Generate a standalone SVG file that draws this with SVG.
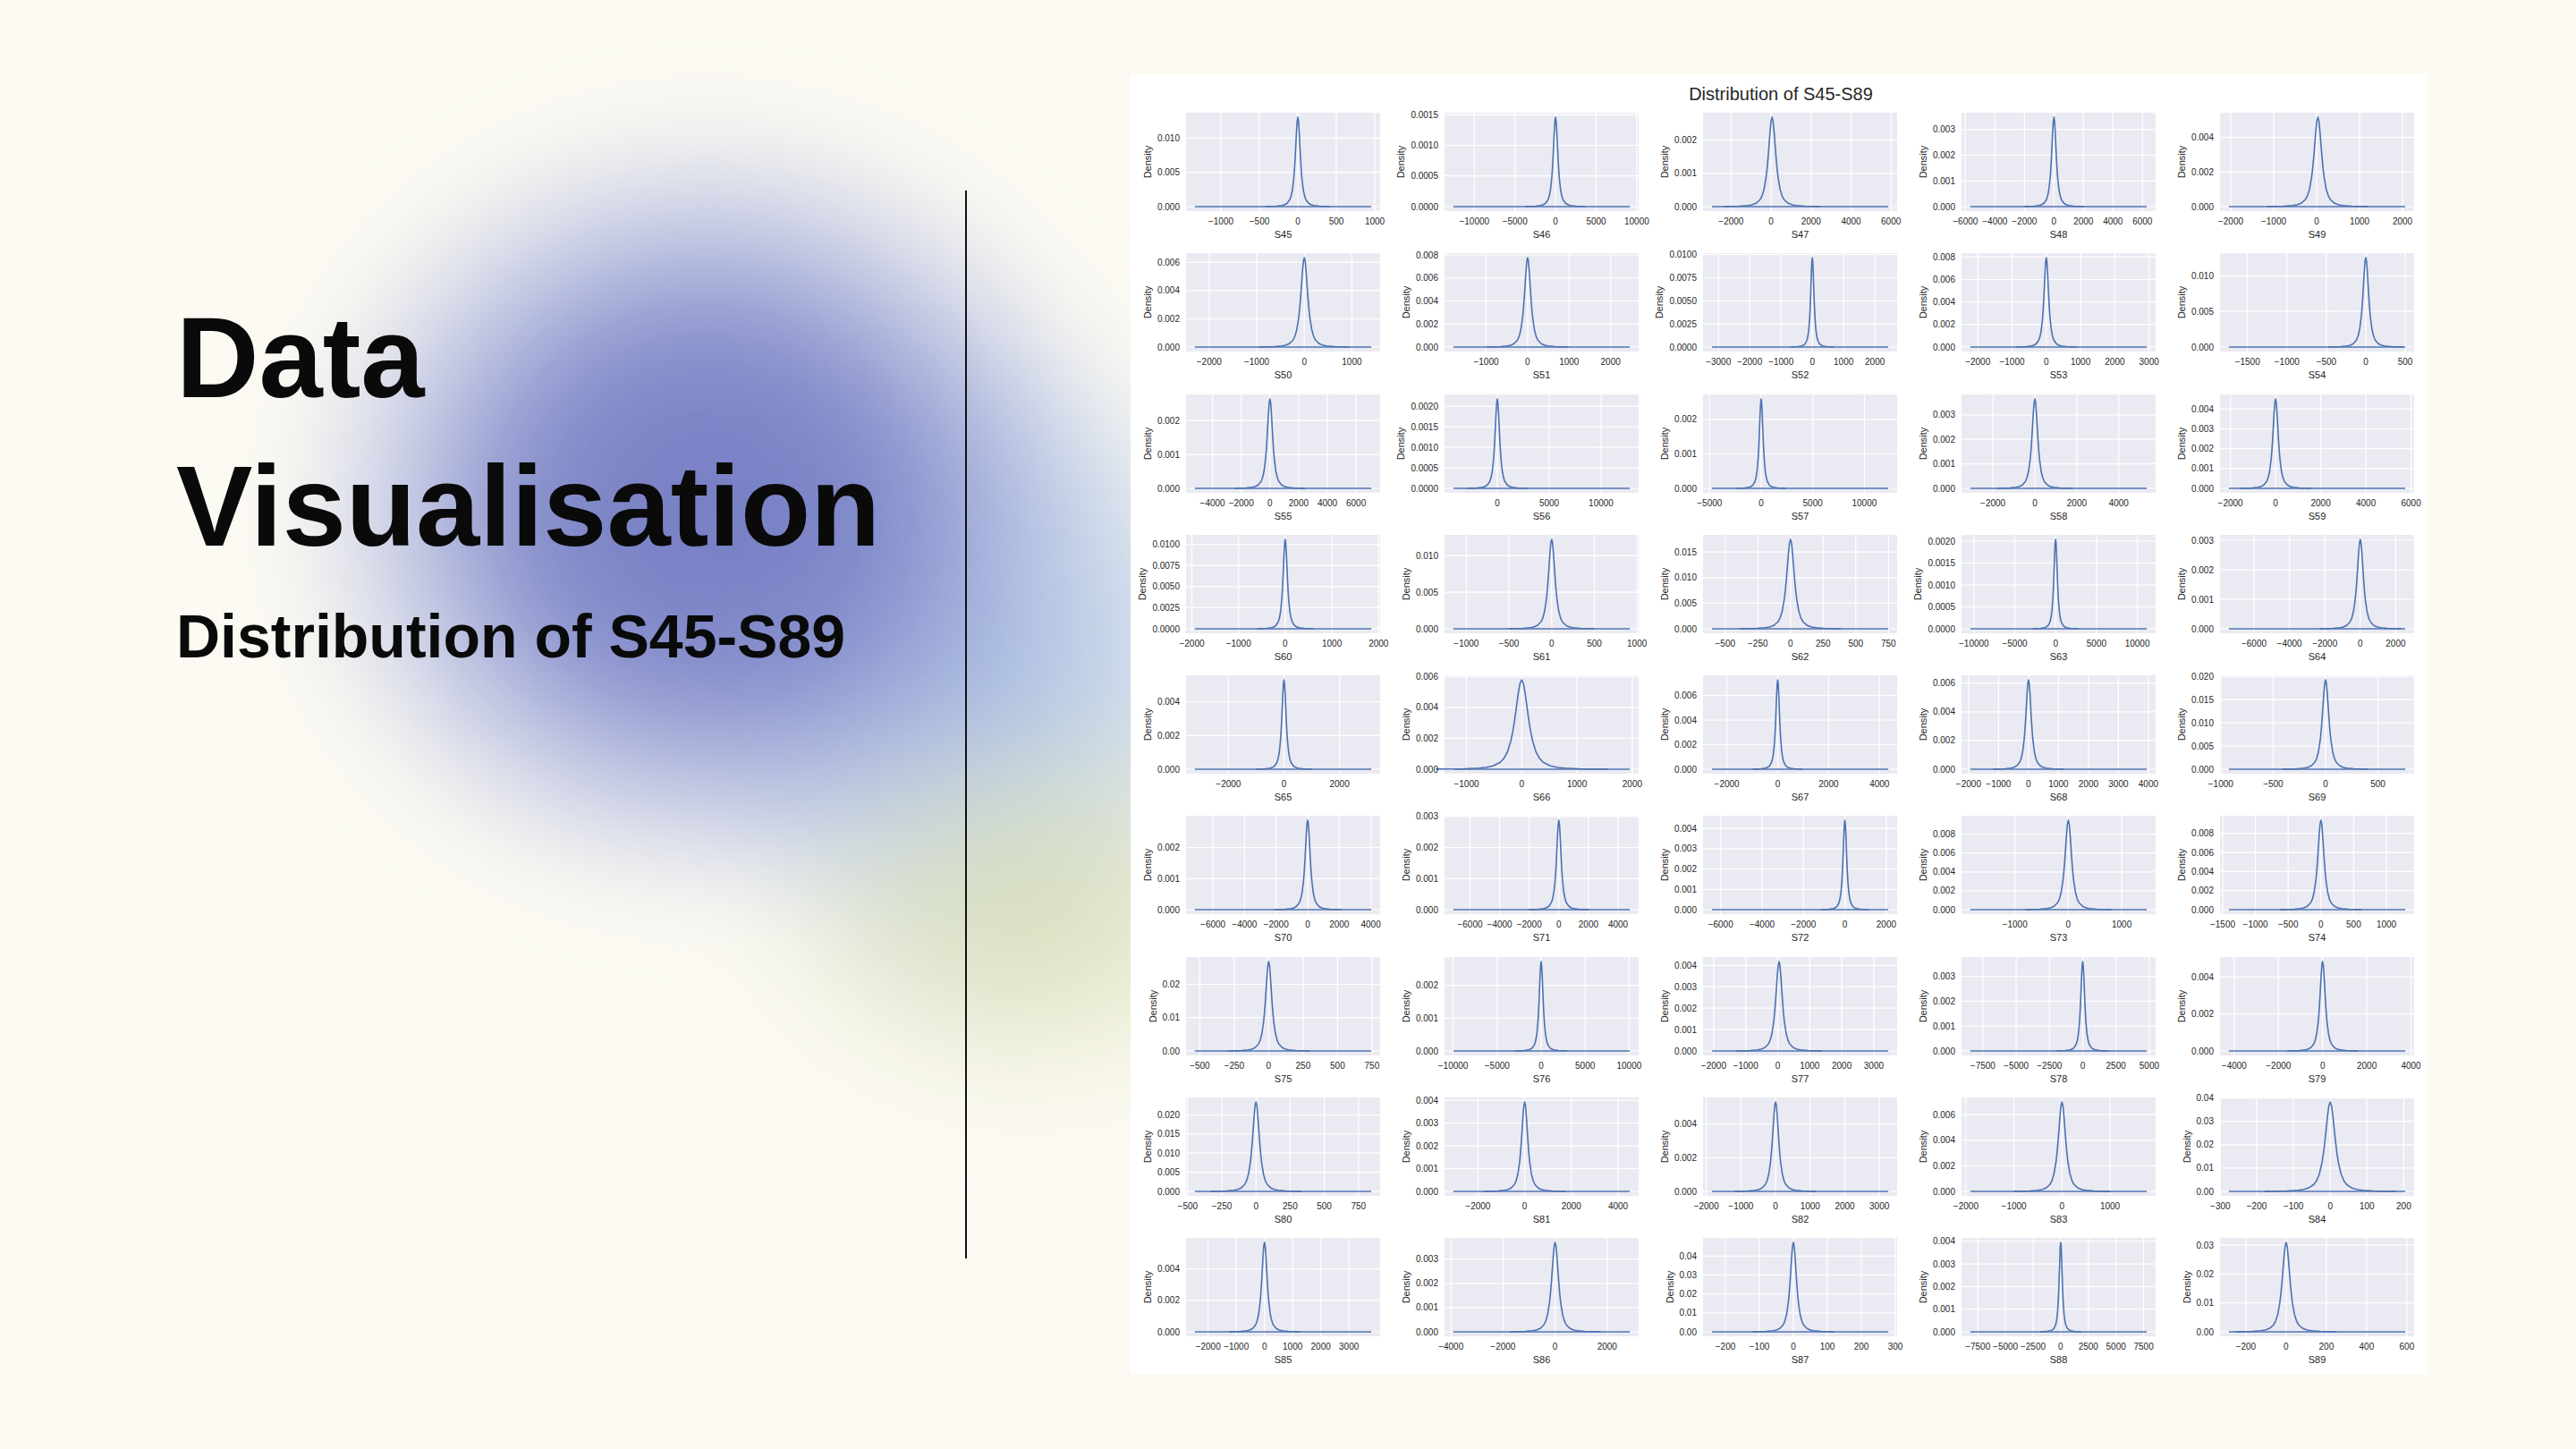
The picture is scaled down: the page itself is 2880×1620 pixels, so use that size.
<svg xmlns="http://www.w3.org/2000/svg" width="2880" height="1620" viewBox="0 0 2880 1620">
<style>
.ax{fill:#EAEAF2}
.gr{stroke:#FFFFFF;stroke-width:1.2;fill:none}
.kd{stroke:#4C72B0;stroke-width:1.6;fill:none;stroke-linejoin:round}
.tk{font-family:'Liberation Sans',Arial,sans-serif;font-size:10px;fill:#262626}
.xt{text-anchor:middle}
.yt{text-anchor:end}
.lb{font-family:'Liberation Sans',Arial,sans-serif;font-size:11px;fill:#262626;text-anchor:middle}
.ttl{font-family:'Liberation Sans',Arial,sans-serif;font-weight:bold;fill:#0A0A0A}
</style>
<defs>
<filter id="blur" x="-60%" y="-60%" width="220%" height="220%"><feGaussianBlur stdDeviation="55"/></filter>
<radialGradient id="g1"><stop offset="0" stop-color="#737AC2"/><stop offset="0.45" stop-color="#7D86C9" stop-opacity="0.92"/><stop offset="0.75" stop-color="#A8B2DE" stop-opacity="0.55"/><stop offset="1" stop-color="#C8CEEA" stop-opacity="0"/></radialGradient>
<radialGradient id="g2"><stop offset="0" stop-color="#9CB8E0" stop-opacity="0.95"/><stop offset="0.6" stop-color="#B0C7E5" stop-opacity="0.6"/><stop offset="1" stop-color="#C9D8EC" stop-opacity="0"/></radialGradient>
<radialGradient id="g3"><stop offset="0" stop-color="#D9DEAE" stop-opacity="0.85"/><stop offset="0.6" stop-color="#E1E4C0" stop-opacity="0.5"/><stop offset="1" stop-color="#EDEDD2" stop-opacity="0"/></radialGradient>
<path id="pk" class="kd" vector-effect="non-scaling-stroke" d="M-12,-0.0016L-10,-0.00275L-8,-0.00527L-6,-0.0121L-5,-0.0202L-4,-0.037L-3,-0.0775L-2.5,-0.1194L-2,-0.1925L-1.5,-0.3228L-1.25,-0.4206L-1,-0.5443L-0.75,-0.6895L-0.5,-0.8381L-0.25,-0.9549L0,-1L0.25,-0.9549L0.5,-0.8381L0.75,-0.6895L1,-0.5443L1.25,-0.4206L1.5,-0.3228L2,-0.1925L2.5,-0.1194L3,-0.0775L4,-0.037L5,-0.0202L6,-0.0121L8,-0.00527L10,-0.00275L12,-0.0016"/>
</defs>
<rect width="2880" height="1620" fill="#FCFAF2"/>
<g id="blob" filter="url(#blur)">
<ellipse cx="1090" cy="760" rx="330" ry="430" fill="url(#g2)"/>
<ellipse cx="1150" cy="1020" rx="320" ry="230" fill="url(#g3)"/>
<ellipse cx="790" cy="570" rx="480" ry="450" fill="url(#g1)"/>
</g>
<g id="title">
<text class="ttl" x="197" y="444" font-size="128">Data</text>
<text class="ttl" x="197" y="610" font-size="128">Visualisation</text>
<text class="ttl" x="197" y="735" font-size="68">Distribution of S45-S89</text>
</g>
<line id="divider" x1="1080" y1="213" x2="1080" y2="1407" stroke="#111111" stroke-width="2"/>
<g id="panel">
<rect x="1264" y="83" width="1450" height="1453" fill="#FFFFFF"/>
<text x="1991" y="112" font-family="'Liberation Sans',Arial,sans-serif" font-size="20" fill="#262626" text-anchor="middle">Distribution of S45-S89</text>
</g>

<g id="S45" transform="translate(1326,126)"><rect class="ax" width="217" height="110"/><path class="gr" d="M39 0V110M82 0V110M125 0V110M168 0V110M211 0V110M0 105H217M0 66.7H217M0 28.4H217"/><path class="kd" d="M9.9 105H207.1"/><use href="#pk" transform="translate(125,105) scale(3,100)"/><text class="tk xt" y="125"><tspan x="39">−1000</tspan><tspan x="82">−500</tspan><tspan x="125">0</tspan><tspan x="168">500</tspan><tspan x="211">1000</tspan></text><g transform="translate(-7,3.6)"><text class="tk yt"><tspan x="0" y="105">0.000</tspan><tspan x="0" y="66.7">0.005</tspan><tspan x="0" y="28.4">0.010</tspan></text></g><text class="lb" x="108.5" y="140">S45</text><text class="lb" transform="translate(-39,55) rotate(-90)">Density</text></g>

<g id="S46" transform="translate(1615,126)"><rect class="ax" width="217" height="110"/><path class="gr" d="M33.3 0V110M78.7 0V110M124.1 0V110M169.5 0V110M214.9 0V110M0 105H217M0 70.7H217M0 36.5H217M0 2.2H217"/><path class="kd" d="M9.9 105H207.1"/><use href="#pk" transform="translate(124.1,105) scale(2.8,100)"/><text class="tk xt" y="125"><tspan x="33.3">−10000</tspan><tspan x="78.7">−5000</tspan><tspan x="124.1">0</tspan><tspan x="169.5">5000</tspan><tspan x="214.9">10000</tspan></text><g transform="translate(-7,3.6)"><text class="tk yt"><tspan x="0" y="105">0.0000</tspan><tspan x="0" y="70.7">0.0005</tspan><tspan x="0" y="36.5">0.0010</tspan><tspan x="0" y="2.2">0.0015</tspan></text></g><text class="lb" x="108.5" y="140">S46</text><text class="lb" transform="translate(-45,55) rotate(-90)">Density</text></g>

<g id="S47" transform="translate(1904,126)"><rect class="ax" width="217" height="110"/><path class="gr" d="M31.4 0V110M76.1 0V110M120.8 0V110M165.5 0V110M210.2 0V110M0 105H217M0 67.8H217M0 30.7H217"/><path class="kd" d="M9.9 105H207.1"/><use href="#pk" transform="translate(77.2,105) scale(4.5,100)"/><text class="tk xt" y="125"><tspan x="31.4">−2000</tspan><tspan x="76.1">0</tspan><tspan x="120.8">2000</tspan><tspan x="165.5">4000</tspan><tspan x="210.2">6000</tspan></text><g transform="translate(-7,3.6)"><text class="tk yt"><tspan x="0" y="105">0.000</tspan><tspan x="0" y="67.8">0.001</tspan><tspan x="0" y="30.7">0.002</tspan></text></g><text class="lb" x="108.5" y="140">S47</text><text class="lb" transform="translate(-39,55) rotate(-90)">Density</text></g>

<g id="S48" transform="translate(2193,126)"><rect class="ax" width="217" height="110"/><path class="gr" d="M4.3 0V110M37.3 0V110M70.3 0V110M103.3 0V110M136.3 0V110M169.3 0V110M202.3 0V110M0 105H217M0 76.3H217M0 47.5H217M0 18.8H217"/><path class="kd" d="M9.9 105H207.1"/><use href="#pk" transform="translate(103.3,105) scale(2.8,100)"/><text class="tk xt" y="125"><tspan x="4.3">−6000</tspan><tspan x="37.3">−4000</tspan><tspan x="70.3">−2000</tspan><tspan x="103.3">0</tspan><tspan x="136.3">2000</tspan><tspan x="169.3">4000</tspan><tspan x="202.3">6000</tspan></text><g transform="translate(-7,3.6)"><text class="tk yt"><tspan x="0" y="105">0.000</tspan><tspan x="0" y="76.3">0.001</tspan><tspan x="0" y="47.5">0.002</tspan><tspan x="0" y="18.8">0.003</tspan></text></g><text class="lb" x="108.5" y="140">S48</text><text class="lb" transform="translate(-39,55) rotate(-90)">Density</text></g>

<g id="S49" transform="translate(2482,126)"><rect class="ax" width="217" height="110"/><path class="gr" d="M12 0V110M60 0V110M108 0V110M156 0V110M204 0V110M0 105H217M0 66.3H217M0 27.6H217"/><path class="kd" d="M9.9 105H207.1"/><use href="#pk" transform="translate(109.4,105) scale(4.7,100)"/><text class="tk xt" y="125"><tspan x="12">−2000</tspan><tspan x="60">−1000</tspan><tspan x="108">0</tspan><tspan x="156">1000</tspan><tspan x="204">2000</tspan></text><g transform="translate(-7,3.6)"><text class="tk yt"><tspan x="0" y="105">0.000</tspan><tspan x="0" y="66.3">0.002</tspan><tspan x="0" y="27.6">0.004</tspan></text></g><text class="lb" x="108.5" y="140">S49</text><text class="lb" transform="translate(-39,55) rotate(-90)">Density</text></g>

<g id="S50" transform="translate(1326,283)"><rect class="ax" width="217" height="110"/><path class="gr" d="M25.8 0V110M79 0V110M132.2 0V110M185.4 0V110M0 105H217M0 73.5H217M0 41.9H217M0 10.4H217"/><path class="kd" d="M9.9 105H207.1"/><use href="#pk" transform="translate(132.2,105) scale(4.2,100)"/><text class="tk xt" y="125"><tspan x="25.8">−2000</tspan><tspan x="79">−1000</tspan><tspan x="132.2">0</tspan><tspan x="185.4">1000</tspan></text><g transform="translate(-7,3.6)"><text class="tk yt"><tspan x="0" y="105">0.000</tspan><tspan x="0" y="73.5">0.002</tspan><tspan x="0" y="41.9">0.004</tspan><tspan x="0" y="10.4">0.006</tspan></text></g><text class="lb" x="108.5" y="140">S50</text><text class="lb" transform="translate(-39,55) rotate(-90)">Density</text></g>

<g id="S51" transform="translate(1615,283)"><rect class="ax" width="217" height="110"/><path class="gr" d="M46.5 0V110M92.9 0V110M139.3 0V110M185.7 0V110M0 105H217M0 79.3H217M0 53.5H217M0 27.8H217M0 2H217"/><path class="kd" d="M9.9 105H207.1"/><use href="#pk" transform="translate(92.9,105) scale(3.8,100)"/><text class="tk xt" y="125"><tspan x="46.5">−1000</tspan><tspan x="92.9">0</tspan><tspan x="139.3">1000</tspan><tspan x="185.7">2000</tspan></text><g transform="translate(-7,3.6)"><text class="tk yt"><tspan x="0" y="105">0.000</tspan><tspan x="0" y="79.3">0.002</tspan><tspan x="0" y="53.5">0.004</tspan><tspan x="0" y="27.8">0.006</tspan><tspan x="0" y="2">0.008</tspan></text></g><text class="lb" x="108.5" y="140">S51</text><text class="lb" transform="translate(-39,55) rotate(-90)">Density</text></g>

<g id="S52" transform="translate(1904,283)"><rect class="ax" width="217" height="110"/><path class="gr" d="M17.2 0V110M52.2 0V110M87.2 0V110M122.2 0V110M157.2 0V110M192.2 0V110M0 105H217M0 79.2H217M0 53.3H217M0 27.5H217M0 1.7H217"/><path class="kd" d="M9.9 105H207.1"/><use href="#pk" transform="translate(122.2,105) scale(2,100)"/><text class="tk xt" y="125"><tspan x="17.2">−3000</tspan><tspan x="52.2">−2000</tspan><tspan x="87.2">−1000</tspan><tspan x="122.2">0</tspan><tspan x="157.2">1000</tspan><tspan x="192.2">2000</tspan></text><g transform="translate(-7,3.6)"><text class="tk yt"><tspan x="0" y="105">0.0000</tspan><tspan x="0" y="79.2">0.0025</tspan><tspan x="0" y="53.3">0.0050</tspan><tspan x="0" y="27.5">0.0075</tspan><tspan x="0" y="1.7">0.0100</tspan></text></g><text class="lb" x="108.5" y="140">S52</text><text class="lb" transform="translate(-45,55) rotate(-90)">Density</text></g>

<g id="S53" transform="translate(2193,283)"><rect class="ax" width="217" height="110"/><path class="gr" d="M18.2 0V110M56.5 0V110M94.8 0V110M133.1 0V110M171.4 0V110M209.7 0V110M0 105H217M0 79.8H217M0 54.7H217M0 29.5H217M0 4.4H217"/><path class="kd" d="M9.9 105H207.1"/><use href="#pk" transform="translate(94.8,105) scale(2.8,100)"/><text class="tk xt" y="125"><tspan x="18.2">−2000</tspan><tspan x="56.5">−1000</tspan><tspan x="94.8">0</tspan><tspan x="133.1">1000</tspan><tspan x="171.4">2000</tspan><tspan x="209.7">3000</tspan></text><g transform="translate(-7,3.6)"><text class="tk yt"><tspan x="0" y="105">0.000</tspan><tspan x="0" y="79.8">0.002</tspan><tspan x="0" y="54.7">0.004</tspan><tspan x="0" y="29.5">0.006</tspan><tspan x="0" y="4.4">0.008</tspan></text></g><text class="lb" x="108.5" y="140">S53</text><text class="lb" transform="translate(-39,55) rotate(-90)">Density</text></g>

<g id="S54" transform="translate(2482,283)"><rect class="ax" width="217" height="110"/><path class="gr" d="M30.7 0V110M74.8 0V110M118.9 0V110M163 0V110M207.1 0V110M0 105H217M0 65.1H217M0 25.3H217"/><path class="kd" d="M9.9 105H207.1"/><use href="#pk" transform="translate(163,105) scale(3.5,100)"/><text class="tk xt" y="125"><tspan x="30.7">−1500</tspan><tspan x="74.8">−1000</tspan><tspan x="118.9">−500</tspan><tspan x="163">0</tspan><tspan x="207.1">500</tspan></text><g transform="translate(-7,3.6)"><text class="tk yt"><tspan x="0" y="105">0.000</tspan><tspan x="0" y="65.1">0.005</tspan><tspan x="0" y="25.3">0.010</tspan></text></g><text class="lb" x="108.5" y="140">S54</text><text class="lb" transform="translate(-39,55) rotate(-90)">Density</text></g>

<g id="S55" transform="translate(1326,441)"><rect class="ax" width="217" height="110"/><path class="gr" d="M29.6 0V110M61.7 0V110M93.8 0V110M125.9 0V110M158 0V110M190.1 0V110M0 105H217M0 67.1H217M0 29.2H217"/><path class="kd" d="M9.9 105H207.1"/><use href="#pk" transform="translate(93.8,105) scale(3.3,100)"/><text class="tk xt" y="125"><tspan x="29.6">−4000</tspan><tspan x="61.7">−2000</tspan><tspan x="93.8">0</tspan><tspan x="125.9">2000</tspan><tspan x="158">4000</tspan><tspan x="190.1">6000</tspan></text><g transform="translate(-7,3.6)"><text class="tk yt"><tspan x="0" y="105">0.000</tspan><tspan x="0" y="67.1">0.001</tspan><tspan x="0" y="29.2">0.002</tspan></text></g><text class="lb" x="108.5" y="140">S55</text><text class="lb" transform="translate(-39,55) rotate(-90)">Density</text></g>

<g id="S56" transform="translate(1615,441)"><rect class="ax" width="217" height="110"/><path class="gr" d="M59 0V110M117 0V110M175 0V110M0 105H217M0 82.1H217M0 59.1H217M0 36.2H217M0 13.3H217"/><path class="kd" d="M9.9 105H207.1"/><use href="#pk" transform="translate(59,105) scale(2.8,100)"/><text class="tk xt" y="125"><tspan x="59">0</tspan><tspan x="117">5000</tspan><tspan x="175">10000</tspan></text><g transform="translate(-7,3.6)"><text class="tk yt"><tspan x="0" y="105">0.0000</tspan><tspan x="0" y="82.1">0.0005</tspan><tspan x="0" y="59.1">0.0010</tspan><tspan x="0" y="36.2">0.0015</tspan><tspan x="0" y="13.3">0.0020</tspan></text></g><text class="lb" x="108.5" y="140">S56</text><text class="lb" transform="translate(-45,55) rotate(-90)">Density</text></g>

<g id="S57" transform="translate(1904,441)"><rect class="ax" width="217" height="110"/><path class="gr" d="M7.3 0V110M65 0V110M122.7 0V110M180.4 0V110M0 105H217M0 66.4H217M0 27.8H217"/><path class="kd" d="M9.9 105H207.1"/><use href="#pk" transform="translate(65,105) scale(2.3,100)"/><text class="tk xt" y="125"><tspan x="7.3">−5000</tspan><tspan x="65">0</tspan><tspan x="122.7">5000</tspan><tspan x="180.4">10000</tspan></text><g transform="translate(-7,3.6)"><text class="tk yt"><tspan x="0" y="105">0.000</tspan><tspan x="0" y="66.4">0.001</tspan><tspan x="0" y="27.8">0.002</tspan></text></g><text class="lb" x="108.5" y="140">S57</text><text class="lb" transform="translate(-39,55) rotate(-90)">Density</text></g>

<g id="S58" transform="translate(2193,441)"><rect class="ax" width="217" height="110"/><path class="gr" d="M35.1 0V110M82 0V110M128.9 0V110M175.8 0V110M0 105H217M0 77.6H217M0 50.2H217M0 22.8H217"/><path class="kd" d="M9.9 105H207.1"/><use href="#pk" transform="translate(82,105) scale(3.5,100)"/><text class="tk xt" y="125"><tspan x="35.1">−2000</tspan><tspan x="82">0</tspan><tspan x="128.9">2000</tspan><tspan x="175.8">4000</tspan></text><g transform="translate(-7,3.6)"><text class="tk yt"><tspan x="0" y="105">0.000</tspan><tspan x="0" y="77.6">0.001</tspan><tspan x="0" y="50.2">0.002</tspan><tspan x="0" y="22.8">0.003</tspan></text></g><text class="lb" x="108.5" y="140">S58</text><text class="lb" transform="translate(-39,55) rotate(-90)">Density</text></g>

<g id="S59" transform="translate(2482,441)"><rect class="ax" width="217" height="110"/><path class="gr" d="M11.6 0V110M62.1 0V110M112.6 0V110M163.1 0V110M213.6 0V110M0 105H217M0 82.8H217M0 60.7H217M0 38.5H217M0 16.3H217"/><path class="kd" d="M9.9 105H207.1"/><use href="#pk" transform="translate(62.1,105) scale(3.3,100)"/><text class="tk xt" y="125"><tspan x="11.6">−2000</tspan><tspan x="62.1">0</tspan><tspan x="112.6">2000</tspan><tspan x="163.1">4000</tspan><tspan x="213.6">6000</tspan></text><g transform="translate(-7,3.6)"><text class="tk yt"><tspan x="0" y="105">0.000</tspan><tspan x="0" y="82.8">0.001</tspan><tspan x="0" y="60.7">0.002</tspan><tspan x="0" y="38.5">0.003</tspan><tspan x="0" y="16.3">0.004</tspan></text></g><text class="lb" x="108.5" y="140">S59</text><text class="lb" transform="translate(-39,55) rotate(-90)">Density</text></g>

<g id="S60" transform="translate(1326,598)"><rect class="ax" width="217" height="110"/><path class="gr" d="M6.5 0V110M58.7 0V110M110.9 0V110M163.1 0V110M215.3 0V110M0 105H217M0 81.4H217M0 57.8H217M0 34.2H217M0 10.7H217"/><path class="kd" d="M9.9 105H207.1"/><use href="#pk" transform="translate(110.9,105) scale(2.6,100)"/><text class="tk xt" y="125"><tspan x="6.5">−2000</tspan><tspan x="58.7">−1000</tspan><tspan x="110.9">0</tspan><tspan x="163.1">1000</tspan><tspan x="215.3">2000</tspan></text><g transform="translate(-7,3.6)"><text class="tk yt"><tspan x="0" y="105">0.0000</tspan><tspan x="0" y="81.4">0.0025</tspan><tspan x="0" y="57.8">0.0050</tspan><tspan x="0" y="34.2">0.0075</tspan><tspan x="0" y="10.7">0.0100</tspan></text></g><text class="lb" x="108.5" y="140">S60</text><text class="lb" transform="translate(-45,55) rotate(-90)">Density</text></g>

<g id="S61" transform="translate(1615,598)"><rect class="ax" width="217" height="110"/><path class="gr" d="M24.4 0V110M72.1 0V110M119.8 0V110M167.5 0V110M215.2 0V110M0 105H217M0 64.1H217M0 23.2H217"/><path class="kd" d="M9.9 105H207.1"/><use href="#pk" transform="translate(119.8,105) scale(4,100)"/><text class="tk xt" y="125"><tspan x="24.4">−1000</tspan><tspan x="72.1">−500</tspan><tspan x="119.8">0</tspan><tspan x="167.5">500</tspan><tspan x="215.2">1000</tspan></text><g transform="translate(-7,3.6)"><text class="tk yt"><tspan x="0" y="105">0.000</tspan><tspan x="0" y="64.1">0.005</tspan><tspan x="0" y="23.2">0.010</tspan></text></g><text class="lb" x="108.5" y="140">S61</text><text class="lb" transform="translate(-39,55) rotate(-90)">Density</text></g>

<g id="S62" transform="translate(1904,598)"><rect class="ax" width="217" height="110"/><path class="gr" d="M24.8 0V110M61.3 0V110M97.8 0V110M134.3 0V110M170.8 0V110M207.3 0V110M0 105H217M0 76.4H217M0 47.8H217M0 19.2H217"/><path class="kd" d="M9.9 105H207.1"/><use href="#pk" transform="translate(97.8,105) scale(4.7,100)"/><text class="tk xt" y="125"><tspan x="24.8">−500</tspan><tspan x="61.3">−250</tspan><tspan x="97.8">0</tspan><tspan x="134.3">250</tspan><tspan x="170.8">500</tspan><tspan x="207.3">750</tspan></text><g transform="translate(-7,3.6)"><text class="tk yt"><tspan x="0" y="105">0.000</tspan><tspan x="0" y="76.4">0.005</tspan><tspan x="0" y="47.8">0.010</tspan><tspan x="0" y="19.2">0.015</tspan></text></g><text class="lb" x="108.5" y="140">S62</text><text class="lb" transform="translate(-39,55) rotate(-90)">Density</text></g>

<g id="S63" transform="translate(2193,598)"><rect class="ax" width="217" height="110"/><path class="gr" d="M13.8 0V110M59.5 0V110M105.2 0V110M150.9 0V110M196.6 0V110M0 105H217M0 80.5H217M0 56H217M0 31.5H217M0 7H217"/><path class="kd" d="M9.9 105H207.1"/><use href="#pk" transform="translate(105.2,105) scale(2.1,100)"/><text class="tk xt" y="125"><tspan x="13.8">−10000</tspan><tspan x="59.5">−5000</tspan><tspan x="105.2">0</tspan><tspan x="150.9">5000</tspan><tspan x="196.6">10000</tspan></text><g transform="translate(-7,3.6)"><text class="tk yt"><tspan x="0" y="105">0.0000</tspan><tspan x="0" y="80.5">0.0005</tspan><tspan x="0" y="56">0.0010</tspan><tspan x="0" y="31.5">0.0015</tspan><tspan x="0" y="7">0.0020</tspan></text></g><text class="lb" x="108.5" y="140">S63</text><text class="lb" transform="translate(-45,55) rotate(-90)">Density</text></g>

<g id="S64" transform="translate(2482,598)"><rect class="ax" width="217" height="110"/><path class="gr" d="M38 0V110M77.6 0V110M117.2 0V110M156.8 0V110M196.4 0V110M0 105H217M0 72H217M0 39H217M0 6H217"/><path class="kd" d="M9.9 105H207.1"/><use href="#pk" transform="translate(156.8,105) scale(3.8,100)"/><text class="tk xt" y="125"><tspan x="38">−6000</tspan><tspan x="77.6">−4000</tspan><tspan x="117.2">−2000</tspan><tspan x="156.8">0</tspan><tspan x="196.4">2000</tspan></text><g transform="translate(-7,3.6)"><text class="tk yt"><tspan x="0" y="105">0.000</tspan><tspan x="0" y="72">0.001</tspan><tspan x="0" y="39">0.002</tspan><tspan x="0" y="6">0.003</tspan></text></g><text class="lb" x="108.5" y="140">S64</text><text class="lb" transform="translate(-39,55) rotate(-90)">Density</text></g>

<g id="S65" transform="translate(1326,755)"><rect class="ax" width="217" height="110"/><path class="gr" d="M47.4 0V110M109.5 0V110M171.6 0V110M0 105H217M0 67.3H217M0 29.5H217"/><path class="kd" d="M9.9 105H207.1"/><use href="#pk" transform="translate(109.5,105) scale(2.6,100)"/><text class="tk xt" y="125"><tspan x="47.4">−2000</tspan><tspan x="109.5">0</tspan><tspan x="171.6">2000</tspan></text><g transform="translate(-7,3.6)"><text class="tk yt"><tspan x="0" y="105">0.000</tspan><tspan x="0" y="67.3">0.002</tspan><tspan x="0" y="29.5">0.004</tspan></text></g><text class="lb" x="108.5" y="140">S65</text><text class="lb" transform="translate(-39,55) rotate(-90)">Density</text></g>

<g id="S66" transform="translate(1615,755)"><rect class="ax" width="217" height="110"/><path class="gr" d="M24.5 0V110M86.3 0V110M148.1 0V110M209.9 0V110M0 105H217M0 70.4H217M0 35.8H217M0 1.2H217"/><path class="kd" d="M9.9 105H207.1"/><use href="#pk" transform="translate(86.3,105) scale(8,100)"/><text class="tk xt" y="125"><tspan x="24.5">−1000</tspan><tspan x="86.3">0</tspan><tspan x="148.1">1000</tspan><tspan x="209.9">2000</tspan></text><g transform="translate(-7,3.6)"><text class="tk yt"><tspan x="0" y="105">0.000</tspan><tspan x="0" y="70.4">0.002</tspan><tspan x="0" y="35.8">0.004</tspan><tspan x="0" y="1.2">0.006</tspan></text></g><text class="lb" x="108.5" y="140">S66</text><text class="lb" transform="translate(-39,55) rotate(-90)">Density</text></g>

<g id="S67" transform="translate(1904,755)"><rect class="ax" width="217" height="110"/><path class="gr" d="M26.6 0V110M83.5 0V110M140.4 0V110M197.3 0V110M0 105H217M0 77.5H217M0 50H217M0 22.5H217"/><path class="kd" d="M9.9 105H207.1"/><use href="#pk" transform="translate(83.5,105) scale(2.3,100)"/><text class="tk xt" y="125"><tspan x="26.6">−2000</tspan><tspan x="83.5">0</tspan><tspan x="140.4">2000</tspan><tspan x="197.3">4000</tspan></text><g transform="translate(-7,3.6)"><text class="tk yt"><tspan x="0" y="105">0.000</tspan><tspan x="0" y="77.5">0.002</tspan><tspan x="0" y="50">0.004</tspan><tspan x="0" y="22.5">0.006</tspan></text></g><text class="lb" x="108.5" y="140">S67</text><text class="lb" transform="translate(-39,55) rotate(-90)">Density</text></g>

<g id="S68" transform="translate(2193,755)"><rect class="ax" width="217" height="110"/><path class="gr" d="M7.9 0V110M41.4 0V110M74.9 0V110M108.4 0V110M141.9 0V110M175.4 0V110M208.9 0V110M0 105H217M0 72.9H217M0 40.9H217M0 8.8H217"/><path class="kd" d="M9.9 105H207.1"/><use href="#pk" transform="translate(74.9,105) scale(3.3,100)"/><text class="tk xt" y="125"><tspan x="7.9">−2000</tspan><tspan x="41.4">−1000</tspan><tspan x="74.9">0</tspan><tspan x="108.4">1000</tspan><tspan x="141.9">2000</tspan><tspan x="175.4">3000</tspan><tspan x="208.9">4000</tspan></text><g transform="translate(-7,3.6)"><text class="tk yt"><tspan x="0" y="105">0.000</tspan><tspan x="0" y="72.9">0.002</tspan><tspan x="0" y="40.9">0.004</tspan><tspan x="0" y="8.8">0.006</tspan></text></g><text class="lb" x="108.5" y="140">S68</text><text class="lb" transform="translate(-39,55) rotate(-90)">Density</text></g>

<g id="S69" transform="translate(2482,755)"><rect class="ax" width="217" height="110"/><path class="gr" d="M0.8 0V110M59.4 0V110M118 0V110M176.6 0V110M0 105H217M0 79.1H217M0 53.1H217M0 27.2H217M0 1.2H217"/><path class="kd" d="M9.9 105H207.1"/><use href="#pk" transform="translate(118,105) scale(4,100)"/><text class="tk xt" y="125"><tspan x="0.8">−1000</tspan><tspan x="59.4">−500</tspan><tspan x="118">0</tspan><tspan x="176.6">500</tspan></text><g transform="translate(-7,3.6)"><text class="tk yt"><tspan x="0" y="105">0.000</tspan><tspan x="0" y="79.1">0.005</tspan><tspan x="0" y="53.1">0.010</tspan><tspan x="0" y="27.2">0.015</tspan><tspan x="0" y="1.2">0.020</tspan></text></g><text class="lb" x="108.5" y="140">S69</text><text class="lb" transform="translate(-39,55) rotate(-90)">Density</text></g>

<g id="S70" transform="translate(1326,912)"><rect class="ax" width="217" height="110"/><path class="gr" d="M30.1 0V110M65.4 0V110M100.7 0V110M136 0V110M171.3 0V110M206.6 0V110M0 105H217M0 70.3H217M0 35.6H217"/><path class="kd" d="M9.9 105H207.1"/><use href="#pk" transform="translate(136,105) scale(3.1,100)"/><text class="tk xt" y="125"><tspan x="30.1">−6000</tspan><tspan x="65.4">−4000</tspan><tspan x="100.7">−2000</tspan><tspan x="136">0</tspan><tspan x="171.3">2000</tspan><tspan x="206.6">4000</tspan></text><g transform="translate(-7,3.6)"><text class="tk yt"><tspan x="0" y="105">0.000</tspan><tspan x="0" y="70.3">0.001</tspan><tspan x="0" y="35.6">0.002</tspan></text></g><text class="lb" x="108.5" y="140">S70</text><text class="lb" transform="translate(-39,55) rotate(-90)">Density</text></g>

<g id="S71" transform="translate(1615,912)"><rect class="ax" width="217" height="110"/><path class="gr" d="M28.5 0V110M61.6 0V110M94.7 0V110M127.8 0V110M160.9 0V110M194 0V110M0 105H217M0 70.3H217M0 35.6H217M0 0.8H217"/><path class="kd" d="M9.9 105H207.1"/><use href="#pk" transform="translate(127.8,105) scale(2.8,100)"/><text class="tk xt" y="125"><tspan x="28.5">−6000</tspan><tspan x="61.6">−4000</tspan><tspan x="94.7">−2000</tspan><tspan x="127.8">0</tspan><tspan x="160.9">2000</tspan><tspan x="194">4000</tspan></text><g transform="translate(-7,3.6)"><text class="tk yt"><tspan x="0" y="105">0.000</tspan><tspan x="0" y="70.3">0.001</tspan><tspan x="0" y="35.6">0.002</tspan><tspan x="0" y="0.8">0.003</tspan></text></g><text class="lb" x="108.5" y="140">S71</text><text class="lb" transform="translate(-39,55) rotate(-90)">Density</text></g>

<g id="S72" transform="translate(1904,912)"><rect class="ax" width="217" height="110"/><path class="gr" d="M19.7 0V110M66 0V110M112.3 0V110M158.6 0V110M204.9 0V110M0 105H217M0 82.3H217M0 59.5H217M0 36.8H217M0 14.1H217"/><path class="kd" d="M9.9 105H207.1"/><use href="#pk" transform="translate(158.6,105) scale(2.2,100)"/><text class="tk xt" y="125"><tspan x="19.7">−6000</tspan><tspan x="66">−4000</tspan><tspan x="112.3">−2000</tspan><tspan x="158.6">0</tspan><tspan x="204.9">2000</tspan></text><g transform="translate(-7,3.6)"><text class="tk yt"><tspan x="0" y="105">0.000</tspan><tspan x="0" y="82.3">0.001</tspan><tspan x="0" y="59.5">0.002</tspan><tspan x="0" y="36.8">0.003</tspan><tspan x="0" y="14.1">0.004</tspan></text></g><text class="lb" x="108.5" y="140">S72</text><text class="lb" transform="translate(-39,55) rotate(-90)">Density</text></g>

<g id="S73" transform="translate(2193,912)"><rect class="ax" width="217" height="110"/><path class="gr" d="M59.7 0V110M119.4 0V110M179.1 0V110M0 105H217M0 83.9H217M0 62.8H217M0 41.7H217M0 20.6H217"/><path class="kd" d="M9.9 105H207.1"/><use href="#pk" transform="translate(119.4,105) scale(4,100)"/><text class="tk xt" y="125"><tspan x="59.7">−1000</tspan><tspan x="119.4">0</tspan><tspan x="179.1">1000</tspan></text><g transform="translate(-7,3.6)"><text class="tk yt"><tspan x="0" y="105">0.000</tspan><tspan x="0" y="83.9">0.002</tspan><tspan x="0" y="62.8">0.004</tspan><tspan x="0" y="41.7">0.006</tspan><tspan x="0" y="20.6">0.008</tspan></text></g><text class="lb" x="108.5" y="140">S73</text><text class="lb" transform="translate(-39,55) rotate(-90)">Density</text></g>

<g id="S74" transform="translate(2482,912)"><rect class="ax" width="217" height="110"/><path class="gr" d="M3 0V110M39.6 0V110M76.2 0V110M112.8 0V110M149.4 0V110M186 0V110M0 105H217M0 83.7H217M0 62.4H217M0 41.1H217M0 19.8H217"/><path class="kd" d="M9.9 105H207.1"/><use href="#pk" transform="translate(112.8,105) scale(3.8,100)"/><text class="tk xt" y="125"><tspan x="3">−1500</tspan><tspan x="39.6">−1000</tspan><tspan x="76.2">−500</tspan><tspan x="112.8">0</tspan><tspan x="149.4">500</tspan><tspan x="186">1000</tspan></text><g transform="translate(-7,3.6)"><text class="tk yt"><tspan x="0" y="105">0.000</tspan><tspan x="0" y="83.7">0.002</tspan><tspan x="0" y="62.4">0.004</tspan><tspan x="0" y="41.1">0.006</tspan><tspan x="0" y="19.8">0.008</tspan></text></g><text class="lb" x="108.5" y="140">S74</text><text class="lb" transform="translate(-39,55) rotate(-90)">Density</text></g>

<g id="S75" transform="translate(1326,1070)"><rect class="ax" width="217" height="110"/><path class="gr" d="M15.4 0V110M53.9 0V110M92.4 0V110M130.9 0V110M169.4 0V110M207.9 0V110M0 105H217M0 67.7H217M0 30.5H217"/><path class="kd" d="M9.9 105H207.1"/><use href="#pk" transform="translate(92.4,105) scale(3.8,100)"/><text class="tk xt" y="125"><tspan x="15.4">−500</tspan><tspan x="53.9">−250</tspan><tspan x="92.4">0</tspan><tspan x="130.9">250</tspan><tspan x="169.4">500</tspan><tspan x="207.9">750</tspan></text><g transform="translate(-7,3.6)"><text class="tk yt"><tspan x="0" y="105">0.00</tspan><tspan x="0" y="67.7">0.01</tspan><tspan x="0" y="30.5">0.02</tspan></text></g><text class="lb" x="108.5" y="140">S75</text><text class="lb" transform="translate(-33.5,55) rotate(-90)">Density</text></g>

<g id="S76" transform="translate(1615,1070)"><rect class="ax" width="217" height="110"/><path class="gr" d="M9.6 0V110M58.8 0V110M108 0V110M157.2 0V110M206.4 0V110M0 105H217M0 68.4H217M0 31.7H217"/><path class="kd" d="M9.9 105H207.1"/><use href="#pk" transform="translate(108,105) scale(2.4,100)"/><text class="tk xt" y="125"><tspan x="9.6">−10000</tspan><tspan x="58.8">−5000</tspan><tspan x="108">0</tspan><tspan x="157.2">5000</tspan><tspan x="206.4">10000</tspan></text><g transform="translate(-7,3.6)"><text class="tk yt"><tspan x="0" y="105">0.000</tspan><tspan x="0" y="68.4">0.001</tspan><tspan x="0" y="31.7">0.002</tspan></text></g><text class="lb" x="108.5" y="140">S76</text><text class="lb" transform="translate(-39,55) rotate(-90)">Density</text></g>

<g id="S77" transform="translate(1904,1070)"><rect class="ax" width="217" height="110"/><path class="gr" d="M11.9 0V110M47.7 0V110M83.5 0V110M119.3 0V110M155.1 0V110M190.9 0V110M0 105H217M0 81.1H217M0 57.2H217M0 33.2H217M0 9.3H217"/><path class="kd" d="M9.9 105H207.1"/><use href="#pk" transform="translate(85,105) scale(4,100)"/><text class="tk xt" y="125"><tspan x="11.9">−2000</tspan><tspan x="47.7">−1000</tspan><tspan x="83.5">0</tspan><tspan x="119.3">1000</tspan><tspan x="155.1">2000</tspan><tspan x="190.9">3000</tspan></text><g transform="translate(-7,3.6)"><text class="tk yt"><tspan x="0" y="105">0.000</tspan><tspan x="0" y="81.1">0.001</tspan><tspan x="0" y="57.2">0.002</tspan><tspan x="0" y="33.2">0.003</tspan><tspan x="0" y="9.3">0.004</tspan></text></g><text class="lb" x="108.5" y="140">S77</text><text class="lb" transform="translate(-39,55) rotate(-90)">Density</text></g>

<g id="S78" transform="translate(2193,1070)"><rect class="ax" width="217" height="110"/><path class="gr" d="M23.9 0V110M61.1 0V110M98.3 0V110M135.5 0V110M172.7 0V110M209.9 0V110M0 105H217M0 77.2H217M0 49.4H217M0 21.7H217"/><path class="kd" d="M9.9 105H207.1"/><use href="#pk" transform="translate(135.5,105) scale(2.4,100)"/><text class="tk xt" y="125"><tspan x="23.9">−7500</tspan><tspan x="61.1">−5000</tspan><tspan x="98.3">−2500</tspan><tspan x="135.5">0</tspan><tspan x="172.7">2500</tspan><tspan x="209.9">5000</tspan></text><g transform="translate(-7,3.6)"><text class="tk yt"><tspan x="0" y="105">0.000</tspan><tspan x="0" y="77.2">0.001</tspan><tspan x="0" y="49.4">0.002</tspan><tspan x="0" y="21.7">0.003</tspan></text></g><text class="lb" x="108.5" y="140">S78</text><text class="lb" transform="translate(-39,55) rotate(-90)">Density</text></g>

<g id="S79" transform="translate(2482,1070)"><rect class="ax" width="217" height="110"/><path class="gr" d="M15.9 0V110M65.3 0V110M114.7 0V110M164.1 0V110M213.5 0V110M0 105H217M0 63.7H217M0 22.4H217"/><path class="kd" d="M9.9 105H207.1"/><use href="#pk" transform="translate(114.7,105) scale(3.3,100)"/><text class="tk xt" y="125"><tspan x="15.9">−4000</tspan><tspan x="65.3">−2000</tspan><tspan x="114.7">0</tspan><tspan x="164.1">2000</tspan><tspan x="213.5">4000</tspan></text><g transform="translate(-7,3.6)"><text class="tk yt"><tspan x="0" y="105">0.000</tspan><tspan x="0" y="63.7">0.002</tspan><tspan x="0" y="22.4">0.004</tspan></text></g><text class="lb" x="108.5" y="140">S79</text><text class="lb" transform="translate(-39,55) rotate(-90)">Density</text></g>

<g id="S80" transform="translate(1326,1227)"><rect class="ax" width="217" height="110"/><path class="gr" d="M1.8 0V110M40 0V110M78.2 0V110M116.4 0V110M154.6 0V110M192.8 0V110M0 105H217M0 83.6H217M0 62.2H217M0 40.8H217M0 19.5H217"/><path class="kd" d="M9.9 105H207.1"/><use href="#pk" transform="translate(78.2,105) scale(4.2,100)"/><text class="tk xt" y="125"><tspan x="1.8">−500</tspan><tspan x="40">−250</tspan><tspan x="78.2">0</tspan><tspan x="116.4">250</tspan><tspan x="154.6">500</tspan><tspan x="192.8">750</tspan></text><g transform="translate(-7,3.6)"><text class="tk yt"><tspan x="0" y="105">0.000</tspan><tspan x="0" y="83.6">0.005</tspan><tspan x="0" y="62.2">0.010</tspan><tspan x="0" y="40.8">0.015</tspan><tspan x="0" y="19.5">0.020</tspan></text></g><text class="lb" x="108.5" y="140">S80</text><text class="lb" transform="translate(-39,55) rotate(-90)">Density</text></g>

<g id="S81" transform="translate(1615,1227)"><rect class="ax" width="217" height="110"/><path class="gr" d="M37.4 0V110M89.6 0V110M141.8 0V110M194 0V110M0 105H217M0 79.6H217M0 54.1H217M0 28.7H217M0 3.2H217"/><path class="kd" d="M9.9 105H207.1"/><use href="#pk" transform="translate(89.6,105) scale(3.8,100)"/><text class="tk xt" y="125"><tspan x="37.4">−2000</tspan><tspan x="89.6">0</tspan><tspan x="141.8">2000</tspan><tspan x="194">4000</tspan></text><g transform="translate(-7,3.6)"><text class="tk yt"><tspan x="0" y="105">0.000</tspan><tspan x="0" y="79.6">0.001</tspan><tspan x="0" y="54.1">0.002</tspan><tspan x="0" y="28.7">0.003</tspan><tspan x="0" y="3.2">0.004</tspan></text></g><text class="lb" x="108.5" y="140">S81</text><text class="lb" transform="translate(-39,55) rotate(-90)">Density</text></g>

<g id="S82" transform="translate(1904,1227)"><rect class="ax" width="217" height="110"/><path class="gr" d="M3.7 0V110M42.4 0V110M81.1 0V110M119.8 0V110M158.5 0V110M197.2 0V110M0 105H217M0 67.3H217M0 29.5H217"/><path class="kd" d="M9.9 105H207.1"/><use href="#pk" transform="translate(81.1,105) scale(3.8,100)"/><text class="tk xt" y="125"><tspan x="3.7">−2000</tspan><tspan x="42.4">−1000</tspan><tspan x="81.1">0</tspan><tspan x="119.8">1000</tspan><tspan x="158.5">2000</tspan><tspan x="197.2">3000</tspan></text><g transform="translate(-7,3.6)"><text class="tk yt"><tspan x="0" y="105">0.000</tspan><tspan x="0" y="67.3">0.002</tspan><tspan x="0" y="29.5">0.004</tspan></text></g><text class="lb" x="108.5" y="140">S82</text><text class="lb" transform="translate(-39,55) rotate(-90)">Density</text></g>

<g id="S83" transform="translate(2193,1227)"><rect class="ax" width="217" height="110"/><path class="gr" d="M4.9 0V110M58.6 0V110M112.3 0V110M166 0V110M0 105H217M0 76.4H217M0 47.8H217M0 19.2H217"/><path class="kd" d="M9.9 105H207.1"/><use href="#pk" transform="translate(112.3,105) scale(4.5,100)"/><text class="tk xt" y="125"><tspan x="4.9">−2000</tspan><tspan x="58.6">−1000</tspan><tspan x="112.3">0</tspan><tspan x="166">1000</tspan></text><g transform="translate(-7,3.6)"><text class="tk yt"><tspan x="0" y="105">0.000</tspan><tspan x="0" y="76.4">0.002</tspan><tspan x="0" y="47.8">0.004</tspan><tspan x="0" y="19.2">0.006</tspan></text></g><text class="lb" x="108.5" y="140">S83</text><text class="lb" transform="translate(-39,55) rotate(-90)">Density</text></g>

<g id="S84" transform="translate(2482,1227)"><rect class="ax" width="217" height="110"/><path class="gr" d="M0.3 0V110M41 0V110M82.1 0V110M123.2 0V110M164.3 0V110M205.4 0V110M0 105H217M0 78.9H217M0 52.8H217M0 26.7H217M0 0.6H217"/><path class="kd" d="M9.9 105H207.1"/><use href="#pk" transform="translate(123.2,105) scale(6.1,100)"/><text class="tk xt" y="125"><tspan x="0.3">−300</tspan><tspan x="41">−200</tspan><tspan x="82.1">−100</tspan><tspan x="123.2">0</tspan><tspan x="164.3">100</tspan><tspan x="205.4">200</tspan></text><g transform="translate(-7,3.6)"><text class="tk yt"><tspan x="0" y="105">0.00</tspan><tspan x="0" y="78.9">0.01</tspan><tspan x="0" y="52.8">0.02</tspan><tspan x="0" y="26.7">0.03</tspan><tspan x="0" y="0.6">0.04</tspan></text></g><text class="lb" x="108.5" y="140">S84</text><text class="lb" transform="translate(-33.5,55) rotate(-90)">Density</text></g>

<g id="S85" transform="translate(1326,1384)"><rect class="ax" width="217" height="110"/><path class="gr" d="M24.7 0V110M56.2 0V110M87.7 0V110M119.2 0V110M150.7 0V110M182.2 0V110M0 105H217M0 69.9H217M0 34.7H217"/><path class="kd" d="M9.9 105H207.1"/><use href="#pk" transform="translate(87.7,105) scale(3.3,100)"/><text class="tk xt" y="125"><tspan x="24.7">−2000</tspan><tspan x="56.2">−1000</tspan><tspan x="87.7">0</tspan><tspan x="119.2">1000</tspan><tspan x="150.7">2000</tspan><tspan x="182.2">3000</tspan></text><g transform="translate(-7,3.6)"><text class="tk yt"><tspan x="0" y="105">0.000</tspan><tspan x="0" y="69.9">0.002</tspan><tspan x="0" y="34.7">0.004</tspan></text></g><text class="lb" x="108.5" y="140">S85</text><text class="lb" transform="translate(-39,55) rotate(-90)">Density</text></g>

<g id="S86" transform="translate(1615,1384)"><rect class="ax" width="217" height="110"/><path class="gr" d="M7.2 0V110M65.4 0V110M123.6 0V110M181.8 0V110M0 105H217M0 77.9H217M0 50.8H217M0 23.7H217"/><path class="kd" d="M9.9 105H207.1"/><use href="#pk" transform="translate(123.6,105) scale(4.2,100)"/><text class="tk xt" y="125"><tspan x="7.2">−4000</tspan><tspan x="65.4">−2000</tspan><tspan x="123.6">0</tspan><tspan x="181.8">2000</tspan></text><g transform="translate(-7,3.6)"><text class="tk yt"><tspan x="0" y="105">0.000</tspan><tspan x="0" y="77.9">0.001</tspan><tspan x="0" y="50.8">0.002</tspan><tspan x="0" y="23.7">0.003</tspan></text></g><text class="lb" x="108.5" y="140">S86</text><text class="lb" transform="translate(-39,55) rotate(-90)">Density</text></g>

<g id="S87" transform="translate(1904,1384)"><rect class="ax" width="217" height="110"/><path class="gr" d="M25 0V110M63 0V110M101 0V110M139 0V110M177 0V110M215 0V110M0 105H217M0 83.8H217M0 62.6H217M0 41.4H217M0 20.3H217"/><path class="kd" d="M9.9 105H207.1"/><use href="#pk" transform="translate(101,105) scale(3.8,100)"/><text class="tk xt" y="125"><tspan x="25">−200</tspan><tspan x="63">−100</tspan><tspan x="101">0</tspan><tspan x="139">100</tspan><tspan x="177">200</tspan><tspan x="215">300</tspan></text><g transform="translate(-7,3.6)"><text class="tk yt"><tspan x="0" y="105">0.00</tspan><tspan x="0" y="83.8">0.01</tspan><tspan x="0" y="62.6">0.02</tspan><tspan x="0" y="41.4">0.03</tspan><tspan x="0" y="20.3">0.04</tspan></text></g><text class="lb" x="108.5" y="140">S87</text><text class="lb" transform="translate(-33.5,55) rotate(-90)">Density</text></g>

<g id="S88" transform="translate(2193,1384)"><rect class="ax" width="217" height="110"/><path class="gr" d="M18.2 0V110M49.1 0V110M80 0V110M110.9 0V110M141.8 0V110M172.7 0V110M203.6 0V110M0 105H217M0 79.7H217M0 54.4H217M0 29.1H217M0 3.7H217"/><path class="kd" d="M9.9 105H207.1"/><use href="#pk" transform="translate(110.9,105) scale(1.9,100)"/><text class="tk xt" y="125"><tspan x="18.2">−7500</tspan><tspan x="49.1">−5000</tspan><tspan x="80">−2500</tspan><tspan x="110.9">0</tspan><tspan x="141.8">2500</tspan><tspan x="172.7">5000</tspan><tspan x="203.6">7500</tspan></text><g transform="translate(-7,3.6)"><text class="tk yt"><tspan x="0" y="105">0.000</tspan><tspan x="0" y="79.7">0.001</tspan><tspan x="0" y="54.4">0.002</tspan><tspan x="0" y="29.1">0.003</tspan><tspan x="0" y="3.7">0.004</tspan></text></g><text class="lb" x="108.5" y="140">S88</text><text class="lb" transform="translate(-39,55) rotate(-90)">Density</text></g>

<g id="S89" transform="translate(2482,1384)"><rect class="ax" width="217" height="110"/><path class="gr" d="M28.9 0V110M73.9 0V110M118.9 0V110M163.9 0V110M208.9 0V110M0 105H217M0 72.6H217M0 40.3H217M0 7.9H217"/><path class="kd" d="M9.9 105H207.1"/><use href="#pk" transform="translate(73.9,105) scale(4.7,100)"/><text class="tk xt" y="125"><tspan x="28.9">−200</tspan><tspan x="73.9">0</tspan><tspan x="118.9">200</tspan><tspan x="163.9">400</tspan><tspan x="208.9">600</tspan></text><g transform="translate(-7,3.6)"><text class="tk yt"><tspan x="0" y="105">0.00</tspan><tspan x="0" y="72.6">0.01</tspan><tspan x="0" y="40.3">0.02</tspan><tspan x="0" y="7.9">0.03</tspan></text></g><text class="lb" x="108.5" y="140">S89</text><text class="lb" transform="translate(-33.5,55) rotate(-90)">Density</text></g>
</svg>
